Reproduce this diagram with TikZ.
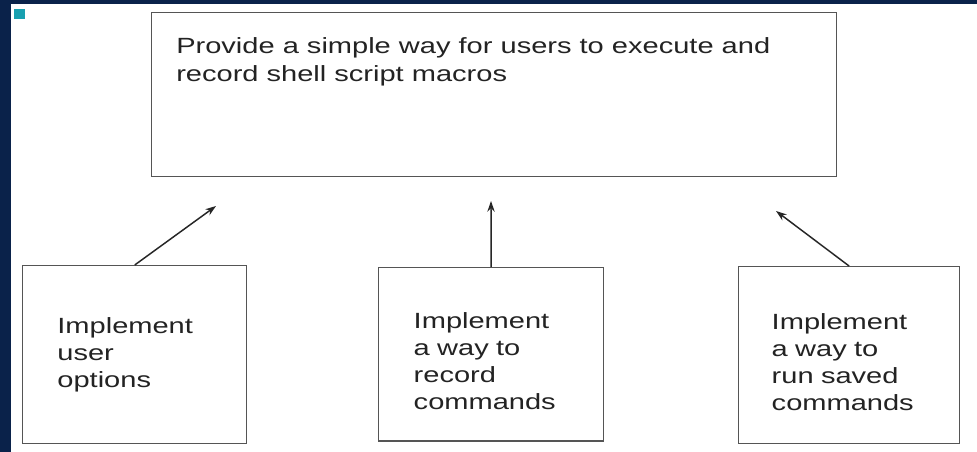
\documentclass[tikz,border=0pt]{standalone}
\usepackage{fontspec}
\setmainfont{Liberation Sans}
\newfontfamily\diagfont[FakeStretch=1.32]{Liberation Sans}
\usetikzlibrary{arrows.meta}
\definecolor{slideblue}{RGB}{10,34,74}
\definecolor{slideteal}{RGB}{24,160,176}
\definecolor{boxgray}{RGB}{85,85,85}
\definecolor{textgray}{RGB}{35,35,35}
\tikzset{
  goalbox/.style={draw=boxgray, line width=1.1pt, anchor=north west, minimum width=513.75pt, minimum height=123pt},
  goaltext/.style={anchor=north west, inner sep=0pt, align=left, text=textgray, font=\diagfont\fontsize{16.5}{21}\selectfont},
  taskbox/.style={draw=boxgray, line width=1.1pt, anchor=north west, inner xsep=26pt, text width=116pt, align=left, text=textgray, font=\diagfont\fontsize{16.5}{20.3}\selectfont},
  linkarrow/.style={draw=black!85, line width=1.1pt, -{Stealth[length=8pt,width=5.5pt]}}
}
\begin{document}
\begin{tikzpicture}[x=0.75pt,y=0.75pt,yscale=-1,xscale=1]
    \useasboundingbox (0,0) rectangle (977,452);
    %slide frame
    \fill[slideblue] (0,0) rectangle (977,452);
    \fill[white] (11,4) rectangle (977,452);
    \fill[slideteal] (14,9) rectangle (25,19);

    %goal box
    \node[goalbox] (goal) at (151,12) {};
    \node[goaltext] (goallabel) at (176,37) {Provide a simple way for users to execute and\\record shell script macros};

    %task boxes
    \node[taskbox, minimum height=133.5pt] (options) at (22,265) {Implement\\user\\options};
    \node[taskbox, minimum height=130pt, inner xsep=26.25pt] (record) at (378,267) {\rule{0pt}{22pt}Implement\\a way to\\record\\commands};
    \node[taskbox, minimum height=132.75pt, inner xsep=24.75pt] (runsaved) at (738,266) {\rule{0pt}{22pt}Implement\\a way to\\run saved\\commands};

    %arrow tips below the goal box
    \coordinate (tipoptions) at (216,206);
    \coordinate (tiprecord) at (491,201);
    \coordinate (tiprunsaved) at (776,211);

    \draw[linkarrow] (options.north) -- (tipoptions);
    \draw[linkarrow] (record.north) -- (tiprecord);
    \draw[linkarrow] (runsaved.north) -- (tiprunsaved);
\end{tikzpicture}
\end{document}
